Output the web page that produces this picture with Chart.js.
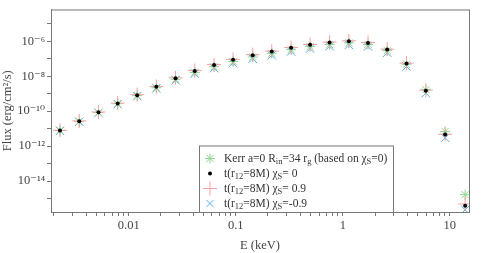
<!DOCTYPE html>
<html>
<head>
<meta charset="utf-8">
<script src="https://cdn.jsdelivr.net/npm/chart.js@4.4.0/dist/chart.umd.min.js"></script>
<style>
  html, body { margin: 0; padding: 0; background: #fff; }
  #wrap { width: 483px; height: 253px; position: relative; }
</style>
</head>
<body>
<div id="wrap"><canvas id="sed"></canvas></div>
<script>
// photon energies (keV)
const energy = [0.00228, 0.00345, 0.00522, 0.00789, 0.0120, 0.0181, 0.0274, 0.0414, 0.0627, 0.0944,
  0.144, 0.217, 0.329, 0.495, 0.753, 1.14, 1.72, 2.60, 3.94, 5.97, 9.04, 13.9];

// flux series (erg/cm^2/s)
const fluxKerr = [7.9e-12, 2.6e-11, 8.4e-11, 2.7e-10, 7.8e-10, 2.2e-9, 6.6e-9, 1.65e-8, 3.5e-8, 6.9e-8,
  1.25e-7, 2.05e-7, 3.3e-7, 4.9e-7, 6.4e-7, 8.0e-7, 6.6e-7, 2.9e-7, 4.8e-8, 1.7e-9, 7.0e-12, 1.7e-15];
const fluxChi0 = [7.9e-12, 2.7e-11, 8.7e-11, 2.8e-10, 8.3e-10, 2.5e-9, 7.7e-9, 2.0e-8, 4.4e-8, 8.7e-8,
  1.6e-7, 2.6e-7, 4.2e-7, 6.2e-7, 8.5e-7, 1.0e-6, 8.0e-7, 3.4e-7, 5.3e-8, 1.5e-9, 4.6e-12, 4.0e-16];
const fluxChiP = [8.2e-12, 2.8e-11, 9.0e-11, 2.9e-10, 8.8e-10, 2.6e-9, 8.1e-9, 2.1e-8, 4.6e-8, 9.2e-8,
  1.7e-7, 2.75e-7, 4.4e-7, 6.5e-7, 8.9e-7, 1.05e-6, 8.4e-7, 3.5e-7, 5.5e-8, 1.6e-9, 4.8e-12, 5.0e-16];
const fluxChiM = [7.5e-12, 2.5e-11, 8.0e-11, 2.5e-10, 7.2e-10, 2.0e-9, 5.8e-9, 1.4e-8, 2.9e-8, 5.6e-8,
  1.0e-7, 1.6e-7, 2.6e-7, 3.8e-7, 5.2e-7, 6.2e-7, 5.0e-7, 2.2e-7, 3.6e-8, 1.1e-9, 3.0e-12, 2.3e-16];

// axis ticks
const xMajor = [0.01, 0.1, 1, 10];
const yExponents = [-15, -14, -13, -12, -11, -10, -9, -8, -7, -6, -5];
const yLabelled = [-14, -12, -10, -8, -6];

const legendRows = [
  { style: 'star', color: '#8fd68f', parts: [['Kerr a=0 R'], ['in', 1], ['=34 r'], ['g', 1], [' (based on χ'], ['S', 1], ['=0)']] },
  { style: 'dot', color: '#000', parts: [['t(r'], ['12', 1], ['=8M) χ'], ['S', 1], ['= 0']] },
  { style: 'cross', color: '#f4a0a0', parts: [['t(r'], ['12', 1], ['=8M) χ'], ['S', 1], ['= 0.9']] },
  { style: 'crossRot', color: '#5aaee6', parts: [['t(r'], ['12', 1], ['=8M) χ'], ['S', 1], ['=-0.9']] }
];

const FONT = '"Liberation Serif", "DejaVu Serif", serif';
const SUP = { '-': '⁻', '0': '⁰', '1': '¹', '2': '²', '3': '³', '4': '⁴', '5': '⁵', '6': '⁶', '7': '⁷', '8': '⁸', '9': '⁹' };
function powLabel(k) {
  return '10' + String(k).split('').map(c => SUP[c]).join('');
}

function toPoints(ys) {
  return energy.map((e, i) => ({ x: e, y: ys[i] }));
}

function drawMarker(ctx, style, color, x, y) {
  ctx.save();
  ctx.strokeStyle = color;
  ctx.fillStyle = color;
  ctx.lineWidth = 1;
  ctx.beginPath();
  if (style === 'dot') {
    ctx.arc(x, y, 2, 0, Math.PI * 2);
    ctx.fill();
  } else {
    const r = style === 'cross' ? 7 : 5;
    if (style === 'cross' || style === 'star') {
      ctx.moveTo(x - r, y); ctx.lineTo(x + r, y);
      ctx.moveTo(x, y - r); ctx.lineTo(x, y + r);
    }
    if (style === 'crossRot' || style === 'star') {
      const d = r * 0.72;
      ctx.moveTo(x - d, y - d); ctx.lineTo(x + d, y + d);
      ctx.moveTo(x - d, y + d); ctx.lineTo(x + d, y - d);
    }
    ctx.stroke();
  }
  ctx.restore();
}

function drawRich(ctx, parts, x, y) {
  for (const [txt, sub] of parts) {
    ctx.font = sub ? '8.5px ' + FONT : '11.5px ' + FONT;
    ctx.fillText(txt, x, sub ? y + 3 : y);
    x += ctx.measureText(txt).width;
  }
}

const frameAndLegend = {
  id: 'frameAndLegend',
  afterDraw(chart) {
    const { ctx, chartArea: a } = chart;
    ctx.save();
    ctx.strokeStyle = '#777';
    ctx.lineWidth = 1;
    ctx.strokeRect(a.left + 0.5, a.top + 0.5, a.right - a.left, a.bottom - a.top);

    // legend box
    const bx = a.left + 148, by = a.top + 136, bw = 194, bh = a.bottom - by;
    ctx.fillStyle = '#fff';
    ctx.fillRect(bx, by, bw, bh);
    ctx.strokeRect(bx + 0.5, by + 0.5, bw, bh);
    ctx.textBaseline = 'middle';
    legendRows.forEach((row, i) => {
      const ry = by + 13 + i * 15;
      drawMarker(ctx, row.style, row.color, bx + 11, ry);
      ctx.fillStyle = '#333';
      drawRich(ctx, row.parts, bx + 25, ry);
    });
    ctx.restore();
  }
};

new Chart(document.getElementById('sed'), {
  type: 'scatter',
  data: {
    datasets: [
      { label: 'χS= 0', data: toPoints(fluxChi0), pointStyle: 'circle', pointRadius: 2,
        backgroundColor: '#000', borderColor: '#000', borderWidth: 0, order: 0 },
      { label: 'χS= 0.9', data: toPoints(fluxChiP), pointStyle: 'cross', pointRadius: 7,
        borderColor: '#f4a0a0', borderWidth: 1, order: 1 },
      { label: 'Kerr', data: toPoints(fluxKerr), pointStyle: 'star', pointRadius: 5,
        borderColor: '#8fd68f', borderWidth: 1, order: 2 },
      { label: 'χS=-0.9', data: toPoints(fluxChiM), pointStyle: 'crossRot', pointRadius: 6,
        borderColor: '#5aaee6', borderWidth: 1, order: 3 }
    ]
  },
  options: {
    responsive: true,
    maintainAspectRatio: false,
    animation: false,
    layout: { padding: { top: 8, right: 14, left: 0, bottom: 0 } },
    plugins: { legend: { display: false }, tooltip: { enabled: false } },
    scales: {
      x: {
        type: 'logarithmic',
        min: 0.00188,
        max: 15.1,
        afterFit(s) { s.height = 41; },
        afterBuildTicks(s) {
          const t = [];
          for (let k = -3; k <= 1; k++) {
            for (let n = 1; n <= 9; n++) {
              const v = n * Math.pow(10, k);
              if (v >= s.min && v <= s.max) t.push({ value: v });
            }
          }
          s.ticks = t;
        },
        ticks: {
          autoSkip: false, maxRotation: 0, padding: 2,
          color: '#444', font: { family: FONT, size: 12.5 },
          callback(v) {
            const m = xMajor.find(q => Math.abs(q - v) / q < 1e-6);
            return m === undefined ? '' : String(m);
          }
        },
        grid: { drawOnChartArea: false, drawTicks: true, tickLength: 4, color: '#777' },
        border: { color: '#777' },
        title: { display: true, text: 'E (keV)', color: '#444', font: { family: FONT, size: 12.5 }, padding: { top: 2, bottom: 0 } }
      },
      y: {
        type: 'logarithmic',
        min: 1.74e-16,
        max: 6.5e-5,
        afterFit(s) { s.width = 51; },
        afterBuildTicks(s) {
          s.ticks = yExponents.map(k => ({ value: Math.pow(10, k) }));
        },
        ticks: {
          autoSkip: false, padding: 2,
          color: '#444', font: { family: FONT, size: 12.5 },
          callback(v) {
            const k = Math.round(Math.log10(v));
            return yLabelled.includes(k) ? powLabel(k) : '';
          }
        },
        grid: { drawOnChartArea: false, drawTicks: true, tickLength: 4, color: '#777' },
        border: { color: '#777' },
        title: { display: true, text: 'Flux (erg/cm²/s)', color: '#444', font: { family: FONT, size: 12.5 }, padding: { top: 0, bottom: 4 } }
      }
    }
  },
  plugins: [frameAndLegend]
});
</script>
</body>
</html>
